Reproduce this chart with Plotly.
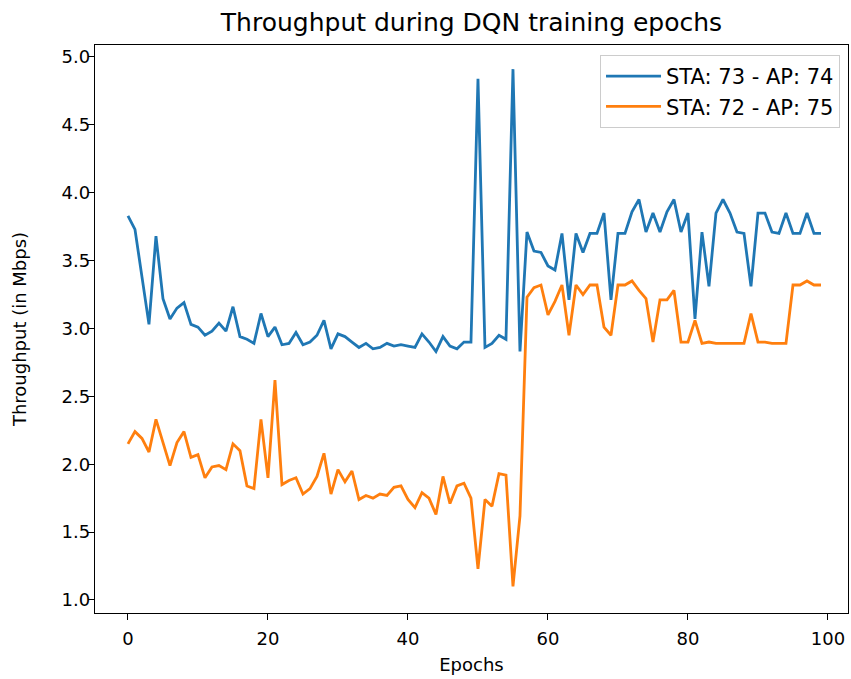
import plotly.graph_objects as go

epochs = list(range(100))

sta73_ap74 = [
    3.83, 3.73, 3.38, 3.03, 3.68, 3.22, 3.07, 3.15, 3.19, 3.03,
    3.01, 2.95, 2.98, 3.04, 2.98, 3.16, 2.94, 2.92, 2.89, 3.11,
    2.94, 3.01, 2.88, 2.89, 2.97, 2.88, 2.90, 2.95, 3.06, 2.85,
    2.96, 2.94, 2.90, 2.86, 2.89, 2.85, 2.86, 2.89, 2.87, 2.88,
    2.87, 2.86, 2.96, 2.90, 2.83, 2.94, 2.87, 2.85, 2.90, 2.90,
    4.84, 2.86, 2.89, 2.95, 2.92, 4.91, 2.83, 3.71, 3.57, 3.56,
    3.46, 3.43, 3.70, 3.21, 3.70, 3.56, 3.70, 3.70, 3.85, 3.21,
    3.70, 3.70, 3.86, 3.95, 3.71, 3.85, 3.71, 3.86, 3.95, 3.71,
    3.85, 3.07, 3.71, 3.31, 3.85, 3.95, 3.85, 3.71, 3.70, 3.31,
    3.85, 3.85, 3.71, 3.70, 3.85, 3.70, 3.70, 3.85, 3.70, 3.70,
]

sta72_ap75 = [
    2.15, 2.24, 2.19, 2.09, 2.33, 2.16, 1.99, 2.16, 2.24, 2.05,
    2.07, 1.90, 1.98, 1.99, 1.96, 2.15, 2.10, 1.84, 1.82, 2.33,
    1.90, 2.62, 1.85, 1.88, 1.90, 1.78, 1.82, 1.91, 2.08, 1.78,
    1.96, 1.87, 1.95, 1.74, 1.77, 1.75, 1.78, 1.77, 1.83, 1.84,
    1.74, 1.68, 1.79, 1.75, 1.63, 1.91, 1.71, 1.84, 1.86, 1.75,
    1.23, 1.74, 1.69, 1.93, 1.92, 1.10, 1.62, 3.23, 3.30, 3.32,
    3.10, 3.20, 3.32, 2.95, 3.32, 3.25, 3.32, 3.32, 3.01, 2.95,
    3.32, 3.32, 3.35, 3.28, 3.22, 2.90, 3.21, 3.21, 3.28, 2.90,
    2.90, 3.06, 2.89, 2.90, 2.89, 2.89, 2.89, 2.89, 2.89, 3.11,
    2.90, 2.90, 2.89, 2.89, 2.89, 3.32, 3.32, 3.35, 3.32, 3.32,
]

series_names = ["STA: 73 - AP: 74", "STA: 72 - AP: 75"]
colors = ["#1f77b4", "#ff7f0e"]

font = "DejaVu Sans"
W, H = 851, 679

fig = go.Figure()
for name, vals, col in zip(series_names, [sta73_ap74, sta72_ap75], colors):
    fig.add_trace(go.Scatter(x=epochs, y=vals, mode="lines", name=name,
                             line=dict(color=col, width=2.8)))

axis_common = dict(
    showgrid=False, zeroline=False, showline=True, linecolor="black",
    linewidth=1.3, mirror=True, ticks="outside", ticklen=6, tickwidth=1.3,
    tickcolor="black", tickfont=dict(family=font, size=18, color="black"),
)

fig.update_layout(
    width=W, height=H,
    margin=dict(l=95, r=3, t=45, b=66),
    paper_bgcolor="white", plot_bgcolor="white",
    font=dict(family=font, size=18, color="black"),
    title=dict(text="Throughput during DQN training epochs",
               x=0.5, xref="paper", xanchor="center",
               y=1 - 22 / H, yref="container", yanchor="middle",
               font=dict(family=font, size=25, color="black")),
    xaxis=dict(range=[-4.71, 102.86], tickvals=[0, 20, 40, 60, 80, 100],
               ticklabelstandoff=3,
               title=dict(text="Epochs", standoff=10,
                          font=dict(family=font, size=18)),
               **axis_common),
    yaxis=dict(range=[0.904, 5.088],
               tickvals=[1.0, 1.5, 2.0, 2.5, 3.0, 3.5, 4.0, 4.5, 5.0],
               tickformat=".1f",
               ticklabelstandoff=-6,
               title=dict(text="Throughput (in Mbps)", standoff=30,
                          font=dict(family=font, size=18)),
               **axis_common),
    legend=dict(x=0.9894, y=0.9824, xanchor="right", yanchor="top",
                bgcolor="rgba(255,255,255,0.8)", bordercolor="#cccccc",
                borderwidth=1, font=dict(family=font, size=21),
                itemwidth=55),
    showlegend=True,
)

fig.write_html("out.html", config={"displayModeBar": False},
               post_script="document.body.style.margin='0';")
